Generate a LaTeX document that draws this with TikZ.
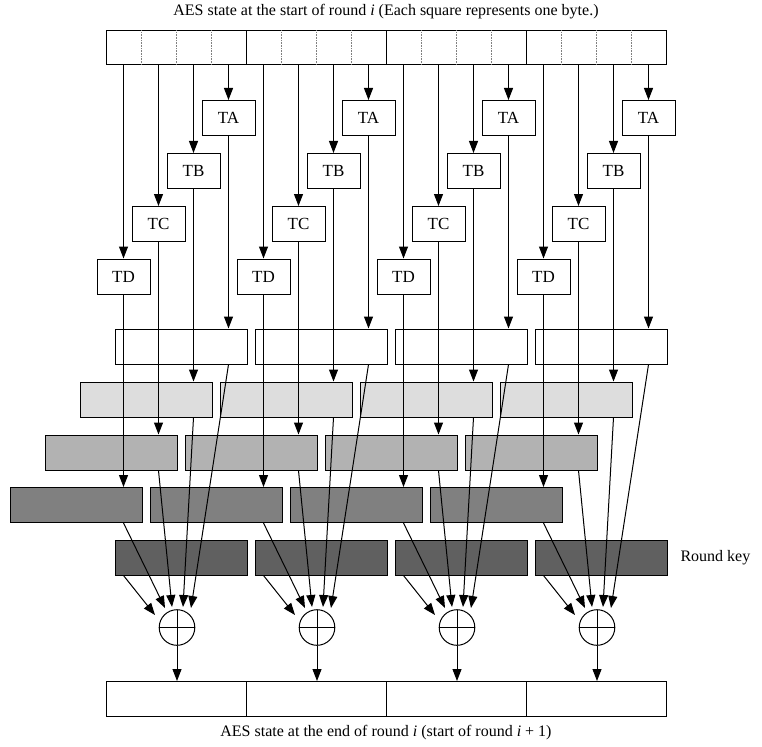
\documentclass[tikz,border=0pt]{standalone}
\usepackage{fontspec}
\setmainfont{Liberation Serif}
\usetikzlibrary{arrows.meta,calc}
\definecolor{lightg}{HTML}{DDDDDD}
\definecolor{midg}{HTML}{B2B2B2}
\definecolor{darkg}{HTML}{808080}
\definecolor{keyg}{HTML}{606060}
\begin{document}
\begin{tikzpicture}[x=1pt,y=-1pt,line width=1pt,
  arr/.style={-{Triangle[length=12pt,width=9pt]}},
  word/.style={draw, minimum width=140pt, minimum height=34pt, inner sep=0pt, outer sep=0pt},
  tbox/.style={draw, fill=white, minimum width=53pt, minimum height=35pt, inner sep=0pt, font=\fontsize{17}{20}\selectfont},
  wide/.style={draw, minimum width=132pt, minimum height=35pt, inner sep=0pt},
  xorc/.style={draw, circle, fill=white, minimum size=35.6pt, inner sep=0pt,
    path picture={\draw (path picture bounding box.north) -- (path picture bounding box.south)
      (path picture bounding box.west) -- (path picture bounding box.east);}},
  captxt/.style={font=\fontsize{16}{19}\selectfont, inner sep=0pt}
]
\useasboundingbox (0,0) rectangle (762,746);
\node[captxt] (captop) at (386,12) {AES state at the start of round \textit{i} (Each square represents one byte.)};
\node[captxt] (capbot) at (386,733) {AES state at the end of round \textit{i} (start of round \textit{i} + 1)};
\foreach \g in {0,1,2,3}{
  \pgfmathsetmacro\o{140*\g}
  \node[word] (w\g) at (176+\o,47.5) {};
  \foreach \k in {1,2,3}
    \draw[densely dotted, gray, line width=0.6pt] ($(w\g.north west)+(35*\k,0)$) -- ($(w\g.south west)+(35*\k,0)$);
  \node[tbox] (ta\g) at (228.5+\o,118) {TA};
  \node[tbox] (tb\g) at (193.5+\o,171) {TB};
  \node[tbox] (tc\g) at (158.5+\o,224) {TC};
  \node[tbox] (td\g) at (123.5+\o,276.5) {TD};
  \node[wide, fill=white] (la\g) at (181+\o,346.5) {};
  \node[wide, fill=lightg] (lb\g) at (146+\o,399.5) {};
  \node[wide, fill=midg] (lc\g) at (111+\o,452.5) {};
  \node[wide, fill=darkg] (ld\g) at (76+\o,505) {};
  \node[wide, fill=keyg] (rk\g) at (181+\o,557.5) {};
  \node[xorc] (x\g) at (177+\o,627.5) {};
  \node[word, minimum height=35pt] (o\g) at (176+\o,698.5) {};
}
\node[anchor=west, captxt] (rklabel) at (680,557.5) {Round key};
\foreach \g in {0,1,2,3}{
  \draw[arr] (ta\g |- w\g.south) -- (ta\g);
  \draw[arr] (tb\g |- w\g.south) -- (tb\g);
  \draw[arr] (tc\g |- w\g.south) -- (tc\g);
  \draw[arr] (td\g |- w\g.south) -- (td\g);
  \draw[arr] (ta\g) -- (ta\g |- la\g.north);
  \draw[arr] (tb\g) -- (tb\g |- lb\g.north);
  \draw[arr] (tc\g) -- (tc\g |- lc\g.north);
  \draw[arr] (td\g) -- (td\g |- ld\g.north);
  \coordinate (ea\g) at ($(x\g)+(-22,-12.5)$);
  \coordinate (eb\g) at ($(x\g)+(-12,-19.5)$);
  \coordinate (ec\g) at ($(x\g)+(-5,-20.5)$);
  \coordinate (ed\g) at ($(x\g)+(6,-20.5)$);
  \coordinate (ee\g) at ($(x\g)+(14,-19.5)$);
  \draw[arr] ($(rk\g.south west)+(9,0)$) -- (ea\g);
  \draw[arr] (td\g |- ld\g.south) -- (eb\g);
  \draw[arr] (tc\g |- lc\g.south) -- (ec\g);
  \draw[arr] (tb\g |- lb\g.south) -- (ed\g);
  \draw[arr] (ta\g |- la\g.south) -- (ee\g);
  \draw[arr] (x\g) -- (x\g |- o\g.north);
}
\end{tikzpicture}
\end{document}
